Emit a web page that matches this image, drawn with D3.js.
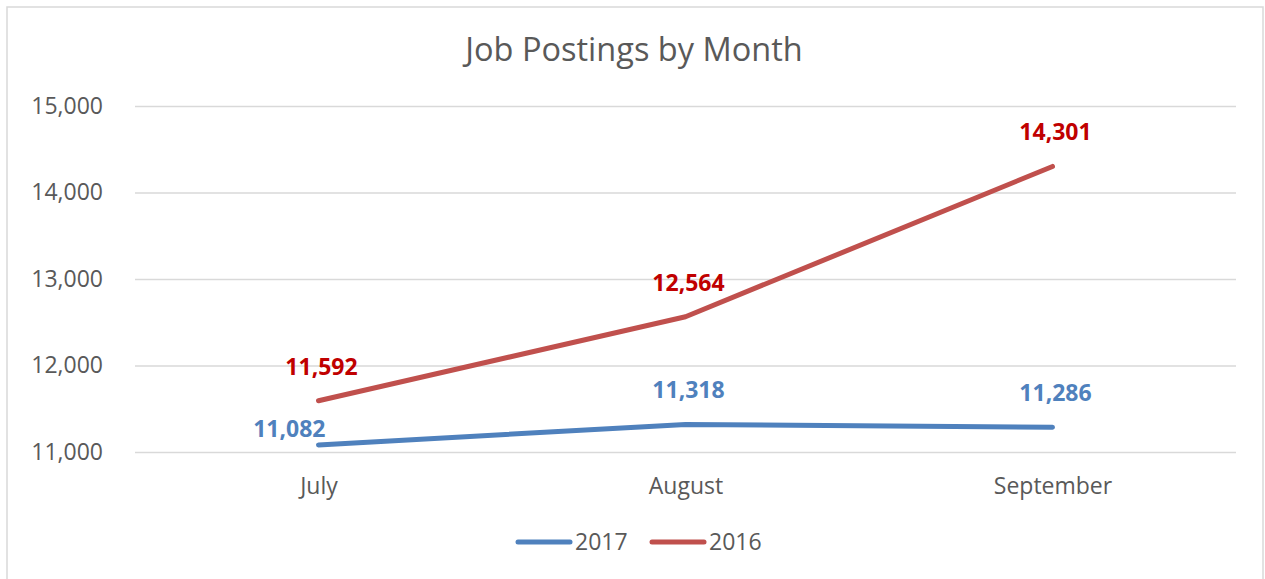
<!DOCTYPE html>
<html lang="en">
<head>
<meta charset="UTF-8"/>
<title>Job Postings by Month</title>
<script src="https://d3js.org/d3.v7.js"></script>
<style>
  body { margin: 0; background: #fff; }
  text { font-family: "Open Sans", "Noto Sans", sans-serif; }
</style>
</head>
<body>
<div id="chart"></div>
<script>
// data
const months = ["July", "August", "September"];
const seriesNames = ["2017", "2016"];
const values2017 = [11082, 11318, 11286];
const values2016 = [11592, 12564, 14301];
const yTicks = [11000, 12000, 13000, 14000, 15000];

const W = 1265, H = 579;
const margin = {top: 106, right: 29, bottom: 127, left: 135},
    width = W - margin.left - margin.right,
    height = H - margin.top - margin.bottom;

const colors = {"2017": "#4f81bd", "2016": "#c0504d"};
const labelColors = {"2017": "#4f81bd", "2016": "#c00000"};

const svg = d3.select("#chart")
  .append("svg")
    .attr("width", W)
    .attr("height", H);

// outer chart border
svg.append("rect")
  .attr("x", 7).attr("y", 7)
  .attr("width", 1256).attr("height", 580)
  .attr("fill", "none")
  .attr("stroke", "#d9d9d9")
  .attr("stroke-width", 1.5);

svg.append("text")
  .attr("x", 634)
  .attr("y", 61)
  .attr("text-anchor", "middle")
  .attr("font-size", 32.5)
  .attr("fill", "#595959")
  .text("Job Postings by Month");

const g = svg.append("g")
  .attr("transform", `translate(${margin.left},${margin.top})`);

const x = d3.scalePoint()
  .domain(months)
  .range([0, width])
  .padding(0.5);

const y = d3.scaleLinear()
  .domain([11000, 15000])
  .range([height, 0]);

// gridlines + y labels
const yAxis = g.append("g")
  .call(d3.axisLeft(y).tickValues(yTicks).tickSize(-width).tickFormat(d3.format(",")));
yAxis.select(".domain").remove();
yAxis.selectAll(".tick line").attr("stroke", "#d9d9d9").attr("stroke-width", 1.5);
yAxis.selectAll(".tick text")
  .attr("x", -32)
  .attr("font-size", 23)
  .attr("fill", "#595959")
  .attr("font-family", "Open Sans");

// x labels
const xAxis = g.append("g")
  .attr("transform", `translate(0,${height})`)
  .call(d3.axisBottom(x).tickSize(0));
xAxis.select(".domain").remove();
xAxis.selectAll(".tick text")
  .attr("dy", 0)
  .attr("y", 42)
  .attr("font-size", 23)
  .attr("fill", "#595959")
  .attr("font-family", "Open Sans");

const series = [
  {name: "2017", values: values2017},
  {name: "2016", values: values2016}
];

const line = d3.line()
  .x((d, i) => x(months[i]))
  .y(d => y(d));

g.selectAll(".series")
  .data(series)
  .join("path")
    .attr("class", "series")
    .attr("fill", "none")
    .attr("stroke", d => colors[d.name])
    .attr("stroke-width", 5)
    .attr("stroke-linecap", "round")
    .attr("stroke-linejoin", "round")
    .attr("d", d => line(d.values));

// data labels (July 2017 sits to the left of its point)
series.forEach(s => {
  g.selectAll(".lbl-" + s.name)
    .data(s.values)
    .join("text")
      .attr("class", "lbl-" + s.name)
      .attr("x", (d, i) => (s.name === "2017" && i === 0) ? x(months[i]) + 7 : x(months[i]) + 3)
      .attr("y", (d, i) => (s.name === "2017" && i === 0) ? y(d) - 8 : y(d) - 26)
      .attr("text-anchor", (d, i) => (s.name === "2017" && i === 0) ? "end" : "middle")
      .attr("font-size", 23)
      .attr("font-weight", "bold")
      .attr("fill", labelColors[s.name])
      .text(d => d3.format(",")(d));
});

// legend
const legend = svg.append("g").attr("transform", "translate(516,542)");
const items = legend.selectAll("g")
  .data(seriesNames)
  .join("g")
    .attr("transform", (d, i) => `translate(${i * 134},0)`);
items.append("line")
  .attr("x1", 2).attr("x2", 54)
  .attr("y1", 0).attr("y2", 0)
  .attr("stroke", d => colors[d])
  .attr("stroke-width", 5)
  .attr("stroke-linecap", "round");
items.append("text")
  .attr("x", 59)
  .attr("y", 8)
  .attr("font-size", 23)
  .attr("fill", "#595959")
  .text(d => d);
</script>
</body>
</html>
